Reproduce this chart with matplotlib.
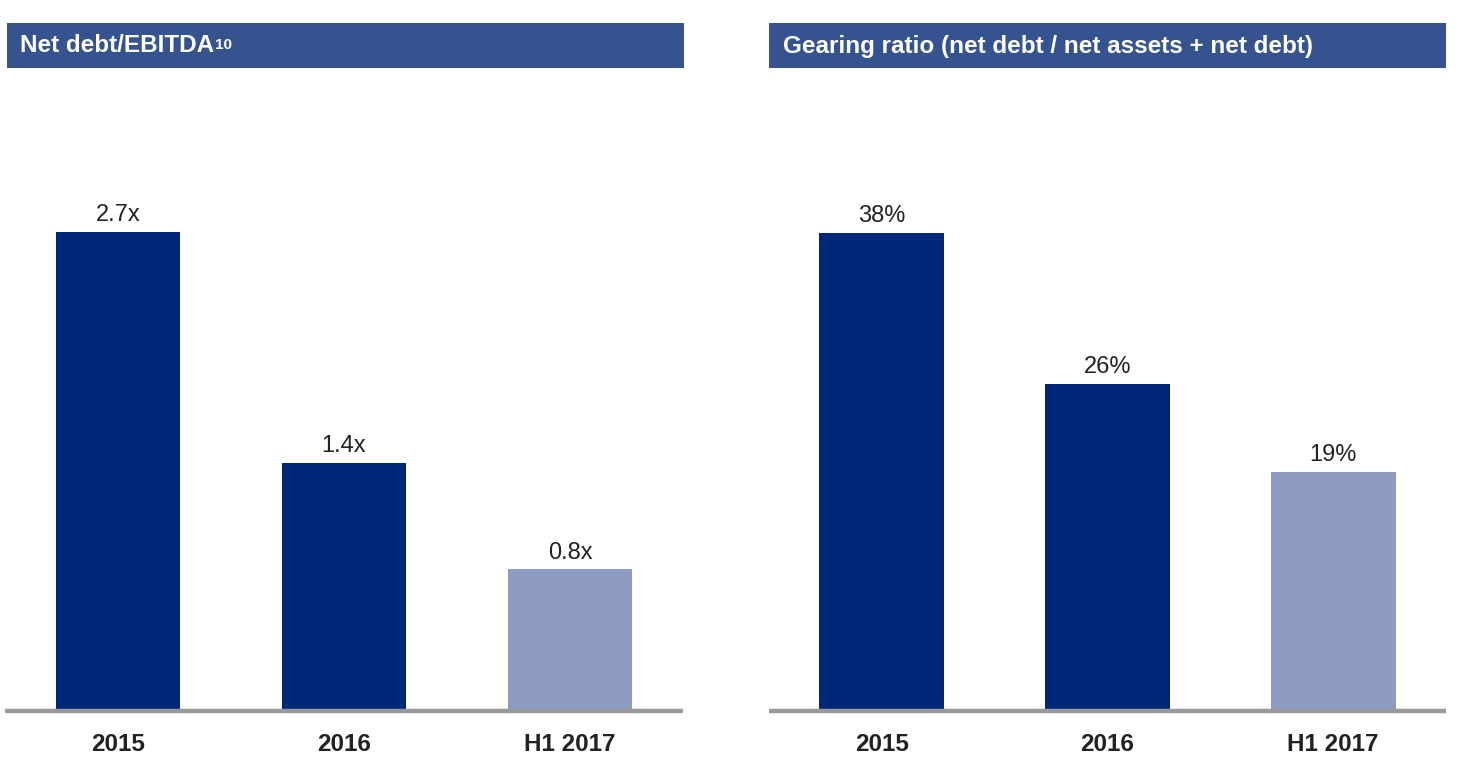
import matplotlib
matplotlib.use("Agg")
import matplotlib.pyplot as plt
from matplotlib.patches import Rectangle

plt.rcParams["font.family"] = ["Liberation Sans", "DejaVu Sans"]

# Dados
categorias = ["2015", "2016", "H1 2017"]
net_debt_ebitda = [2.7, 1.4, 0.8]
gearing = [38, 26, 19]
rotulos_ebitda = ["2.7x", "1.4x", "0.8x"]
rotulos_gearing = ["38%", "26%", "19%"]
titulo_esq = "Net debt/EBITDA"
titulo_sup = "10"
titulo_dir = "Gearing ratio (net debt / net assets + net debt)"

escuro = "#00287a"
claro = "#8e9bc3"
cores = [escuro, escuro, claro]
azul_cab = "#34538f"
cinza = "#9a9a9a"

W, H = 1461, 769
fig = plt.figure(figsize=(W / 100, H / 100), dpi=100)

def px(x0, y0, x1, y1):
    # caixa em pixels (origem no topo) -> fração da figura
    return [x0 / W, (H - y1) / H, (x1 - x0) / W, (y1 - y0) / H]

ax1 = fig.add_axes(px(5, 80, 683, 711))
ax2 = fig.add_axes(px(769, 80, 1446, 711))

def painel(ax, valores, rotulos, ymax):
    xs = range(len(categorias))
    ax.bar(xs, valores, width=0.553, color=cores)
    ax.set_xlim(-0.5, 2.5)
    ax.set_ylim(0, ymax)
    for x, v, r in zip(xs, valores, rotulos):
        ax.annotate(r, (x, v), xytext=(0, 4), textcoords="offset points",
                    ha="center", va="bottom", fontsize=17, color="#222222")
    ax.set_xticks(list(xs))
    ax.set_xticklabels(categorias, fontsize=17.5, fontweight="bold", color="#222222")
    ax.tick_params(axis="x", length=0, pad=16)
    ax.set_yticks([])
    for s in ["top", "left", "right"]:
        ax.spines[s].set_visible(False)
    ax.spines["bottom"].set_color(cinza)
    ax.spines["bottom"].set_linewidth(3.2)
    ax.spines["bottom"].set_capstyle("butt")

painel(ax1, net_debt_ebitda, rotulos_ebitda, 631 / 177.4)
painel(ax2, gearing, rotulos_gearing, 631 / 12.58)

# Cabeçalhos
for x0, x1 in [(7, 684), (769, 1446)]:
    r = px(x0, 23, x1, 68)
    fig.add_artist(Rectangle((r[0], r[1]), r[2], r[3], transform=fig.transFigure,
                             facecolor=azul_cab, edgecolor="none"))

cy = 1 - 46 / H
t1 = fig.text(20 / W, cy, titulo_esq, color="white", fontsize=17.5,
              fontweight="bold", va="center", ha="left")
fig.text(783 / W, cy, titulo_dir, color="white", fontsize=17.5,
         fontweight="bold", va="center", ha="left")

fig.canvas.draw()
bb = t1.get_window_extent(fig.canvas.get_renderer())
fig.text(bb.x1 / W + 0.0005, bb.y1 / H - 0.004, titulo_sup, color="white",
         fontsize=11, fontweight="bold", va="top", ha="left")

plt.savefig("out.png", dpi=100)
